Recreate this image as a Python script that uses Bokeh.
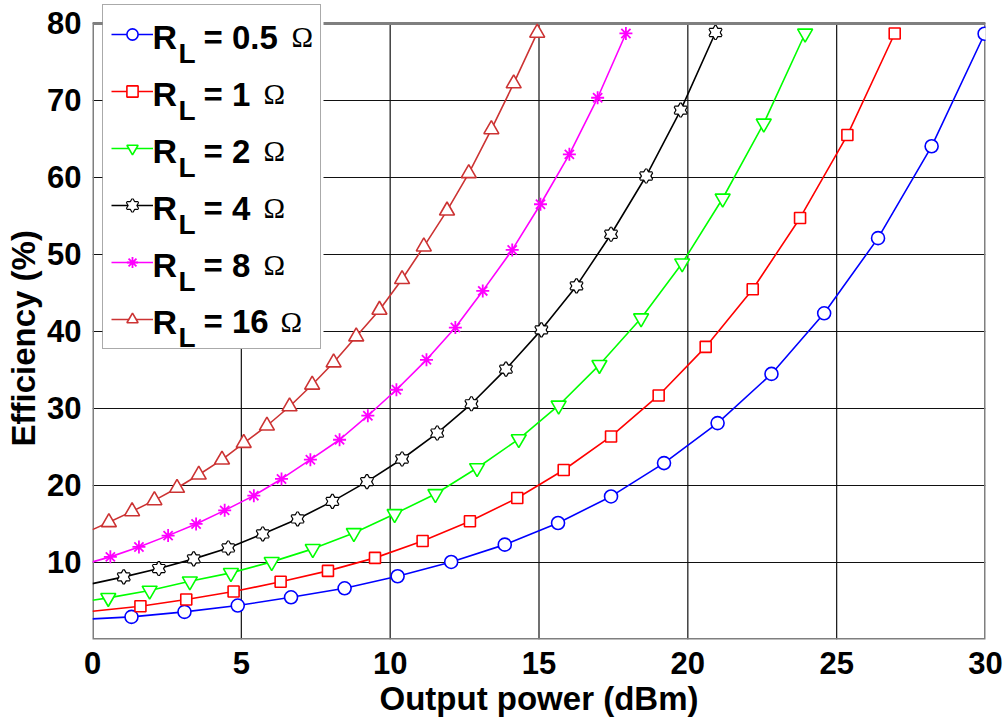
from bokeh.plotting import figure
from bokeh.models import Range1d, FixedTicker, Legend, LegendItem
from bokeh.core.properties import value
from bokeh.embed import file_html
from bokeh.resources import INLINE

# ---------------- data ----------------
x_ticks = [0, 5, 10, 15, 20, 25, 30]
y_ticks = [10, 20, 30, 40, 50, 60, 70, 80]
x_title = "Output power (dBm)"
y_title = "Efficiency (%)"

# legend texts: R_L = value Ω
load_values = ["0.5", "1", "2", "4", "8", "16"]

blue_start = 2.68
blue_x = [1.31, 3.09, 4.88, 6.67, 8.47, 10.25, 12.05, 13.85, 15.64, 17.42, 19.20, 21.00, 22.81, 24.58, 26.39, 28.19, 29.97]
blue_y = [2.94, 3.59, 4.41, 5.48, 6.65, 8.21, 10.07, 12.32, 15.13, 18.58, 22.91, 28.10, 34.49, 42.36, 52.12, 64.05, 78.66]

red_start = 3.67
red_x = [1.61, 3.15, 4.74, 6.32, 7.91, 9.49, 11.09, 12.68, 14.27, 15.83, 17.42, 19.02, 20.60, 22.18, 23.77, 25.36, 26.95]
red_y = [4.32, 5.19, 6.23, 7.49, 8.91, 10.60, 12.80, 15.35, 18.38, 22.01, 26.37, 31.69, 38.00, 45.49, 54.74, 65.51, 78.70]

green_start = 5.10
green_x = [0.53, 1.92, 3.27, 4.65, 6.02, 7.40, 8.78, 10.15, 11.52, 12.92, 14.32, 15.66, 17.03, 18.43, 19.81, 21.17, 22.55, 23.94]
green_y = [5.41, 6.36, 7.56, 8.65, 10.08, 11.77, 13.84, 16.31, 18.90, 22.27, 26.03, 30.39, 35.67, 41.73, 48.86, 57.27, 67.02, 78.70]

black_start = 7.26
black_x = [1.05, 2.23, 3.40, 4.56, 5.72, 6.89, 8.06, 9.22, 10.40, 11.58, 12.73, 13.89, 15.08, 16.26, 17.42, 18.60, 19.76, 20.93]
black_y = [8.13, 9.21, 10.47, 11.89, 13.71, 15.66, 17.94, 20.50, 23.44, 26.81, 30.61, 35.11, 40.21, 45.92, 52.63, 60.19, 68.75, 78.83]

magenta_start = 10.08
magenta_x = [0.60, 1.56, 2.54, 3.48, 4.44, 5.42, 6.35, 7.32, 8.30, 9.25, 10.21, 11.22, 12.19, 13.11, 14.10, 15.05, 16.02, 16.97, 17.92]
magenta_y = [10.73, 12.02, 13.49, 15.01, 16.77, 18.68, 20.85, 23.35, 25.94, 29.06, 32.43, 36.32, 40.51, 45.27, 50.59, 56.52, 63.00, 70.35, 78.70]

brown_start = 14.27
brown_x = [0.55, 1.33, 2.08, 2.84, 3.57, 4.35, 5.08, 5.86, 6.62, 7.38, 8.10, 8.86, 9.64, 10.40, 11.13, 11.91, 12.64, 13.40, 14.15, 14.94]
brown_y = [15.22, 16.64, 18.07, 19.68, 21.40, 23.35, 25.51, 27.76, 30.26, 33.08, 35.97, 39.34, 42.80, 46.79, 51.02, 55.69, 60.54, 66.25, 72.21, 78.78]

# ---------------- layout constants ----------------
FONT = "Liberation Sans"
FRAME_L, FRAME_R, FRAME_B = 92, 985, 640          # canvas pixels of the plot frame
Y_TOP = y_ticks[-1] * FRAME_B / 617                 # frame reaches canvas top; axes box ends at 80
XS = (FRAME_R - FRAME_L) / (x_ticks[-1] - x_ticks[0])
YS = FRAME_B / Y_TOP


def dx(px):  # canvas x pixel -> data x (for annotation placement only)
    return x_ticks[0] + (px - FRAME_L) / XS


def dy(py):  # canvas y pixel -> data y (for annotation placement only)
    return (FRAME_B - py) / YS


p = figure(width=1005, height=719, output_backend="svg", toolbar_location=None,
           x_range=Range1d(x_ticks[0], x_ticks[-1]), y_range=Range1d(0, Y_TOP),
           min_border_left=FRAME_L, min_border_right=1005 - FRAME_R, min_border_top=0,
           min_border_bottom=719 - FRAME_B)
p.background_fill_color = "white"
p.border_fill_color = "white"
p.outline_line_color = None

p.xaxis.ticker = FixedTicker(ticks=x_ticks)
p.yaxis.ticker = FixedTicker(ticks=y_ticks)
p.ygrid.ticker = FixedTicker(ticks=y_ticks)
p.ygrid.grid_line_color = "#111111"
p.ygrid.grid_line_width = 1.2
p.xgrid.visible = False

for ax in (p.xaxis, p.yaxis):
    ax.axis_line_color = None
    ax.major_tick_line_color = None
    ax.minor_tick_line_color = None
    ax.major_label_text_font = FONT
    ax.major_label_text_font_style = "bold"
    ax.major_label_text_font_size = "31px"
    ax.major_label_text_color = "black"
    ax.axis_label_text_font = FONT
    ax.axis_label_text_font_style = "bold"
    ax.axis_label_text_font_size = "33px"
    ax.axis_label_text_color = "black"

p.xaxis.axis_label = x_title
p.yaxis.axis_label = y_title + "\u00a0" * 4   # nudges the vertical title down like the reference
p.xaxis.major_label_standoff = 6
p.yaxis.major_label_standoff = 5
p.xaxis.axis_label_standoff = 3
p.yaxis.axis_label_standoff = 2

# white strip above the axes box, vertical grid lines (ending at the box top), the grey box, legend panel
p.quad(left=[x_ticks[0]], right=[x_ticks[-1]], bottom=[y_ticks[-1]], top=[Y_TOP + 5],
       fill_color="white", line_color=None)
inner_x = x_ticks[1:-1]
p.segment(x0=inner_x, y0=[0] * len(inner_x), x1=inner_x, y1=[y_ticks[-1]] * len(inner_x),
          line_color="#111111", line_width=1.2)
p.quad(left=[x_ticks[0]], right=[x_ticks[-1]], bottom=[0], top=[y_ticks[-1]],
       fill_alpha=0, line_color="#7f7f7f", line_width=3)
p.quad(left=[dx(102)], right=[dx(323)], bottom=[dy(349)], top=[dy(2)],
       fill_color="white", line_color=None)


def curve(xs, ys, start, color):
    return p.line([0] + xs, [start] + ys, line_color=color, line_width=1.6)


items = []

l = curve(blue_x, blue_y, blue_start, "#0000ff")
m = p.scatter(blue_x, blue_y, marker="circle", size=13, line_color="#0000ff", line_width=1.6, fill_color="white")
items.append(LegendItem(label="", renderers=[l, m]))

l = curve(red_x, red_y, red_start, "#ff0000")
m = p.scatter(red_x, red_y, marker="square", size=11, line_color="#ff0000", line_width=1.6, fill_color="white")
items.append(LegendItem(label="", renderers=[l, m]))

l = curve(green_x, green_y, green_start, "#00ff00")
m = p.scatter(green_x, green_y, marker="inverted_triangle", size=15, line_color="#00ff00", line_width=1.6, fill_color="white")
items.append(LegendItem(label="", renderers=[l, m]))

l = curve(black_x, black_y, black_start, "black")
a = p.scatter(black_x, black_y, marker="triangle", size=12, line_color="black", line_width=2.4, fill_color="white")
b = p.scatter(black_x, black_y, marker="inverted_triangle", size=12, line_color="black", line_width=2.4, fill_color="white")
c = p.scatter(black_x, black_y, marker="triangle", size=12, line_color=None, fill_color="white")
d = p.scatter(black_x, black_y, marker="inverted_triangle", size=12, line_color=None, fill_color="white")
items.append(LegendItem(label="", renderers=[l, a, b, c, d]))

l = curve(magenta_x, magenta_y, magenta_start, "#ff00ff")
m = p.scatter(magenta_x, magenta_y, marker="asterisk", size=13, line_color="#ff00ff", line_width=1.8)
items.append(LegendItem(label="", renderers=[l, m]))

l = curve(brown_x, brown_y, brown_start, "#cc3333")
m = p.scatter(brown_x, brown_y, marker="triangle", size=15, line_color="#cc3333", line_width=1.6, fill_color="white")
items.append(LegendItem(label="", renderers=[l, m]))

# legend texts "R_L = value Ω"
n = len(load_values)
centers = [32 + 57 * i for i in range(n)]   # canvas y of each entry's sample line
omega_x = [291, 263, 263, 263, 263, 280]
p.text(x=[dx(152)] * n, y=[dy(c + 5) for c in centers], text=["R"] * n,
       text_font=value(FONT), text_font_style="bold", text_font_size="34px",
       text_baseline="alphabetic", text_align="left", text_color="black")
p.text(x=[dx(178)] * n, y=[dy(c + 21) for c in centers], text=["L"] * n,
       text_font=value(FONT), text_font_style="bold", text_font_size="28px",
       text_baseline="alphabetic", text_align="left", text_color="black")
p.text(x=[dx(203)] * n, y=[dy(c + 5) for c in centers], text=["= " + v for v in load_values],
       text_font=value(FONT), text_font_style="bold", text_font_size="33px",
       text_baseline="alphabetic", text_align="left", text_color="black")
p.text(x=[dx(ox) for ox in omega_x], y=[dy(c + 5) for c in centers], text=["Ω"] * n,
       text_font=value("Liberation Serif"), text_font_style="normal", text_font_size="29px",
       text_baseline="alphabetic", text_align="left", text_color="black")

legend = Legend(items=items, location=(10, 290), orientation="vertical",
                glyph_width=42, glyph_height=28, label_height=42, label_width=154, label_standoff=5,
                spacing=15, padding=8, margin=0,
                label_text_font=FONT, label_text_font_style="bold", label_text_font_size="31px",
                border_line_color="#555555", border_line_width=1.5,
                background_fill_alpha=0.0)
p.add_layout(legend)

open("out.html", "w").write(file_html(p, INLINE))
